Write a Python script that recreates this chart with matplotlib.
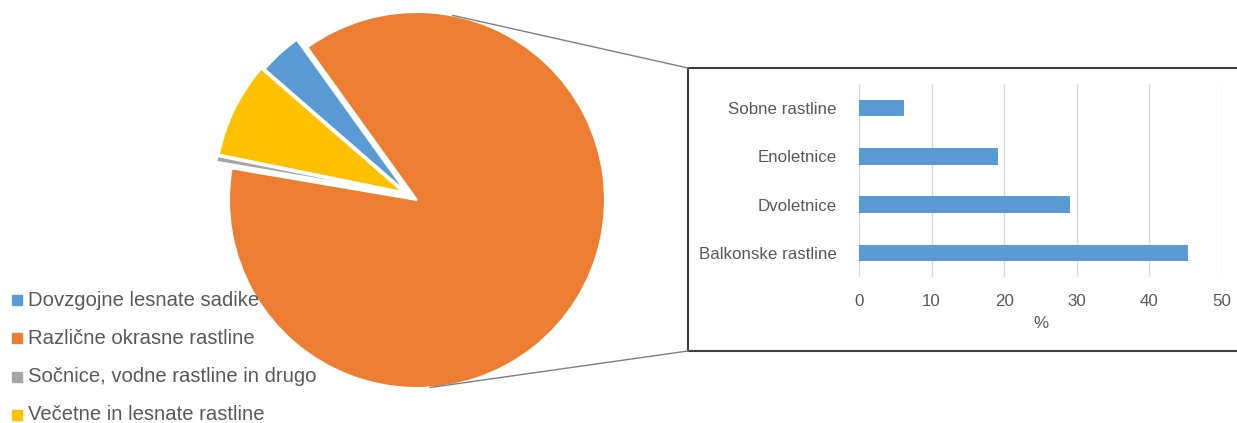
import numpy as np
import matplotlib.pyplot as plt
from matplotlib.patches import Rectangle

plt.rcParams["font.family"] = ["Liberation Sans", "DejaVu Sans"]

# pie data (share, %)
pie_labels = ["Dovzgojne lesnate sadike", "Različne okrasne rastline",
              "Sočnice, vodne rastline in drugo", "Večetne in lesnate rastline"]
pie_values = [3.7, 87.6, 0.5, 8.2]
pie_colors = ["#5B9BD5", "#ED7D31", "#A5A5A5", "#FFC000"]

# breakdown of "Različne okrasne rastline" (%)
bar_labels = ["Balkonske rastline", "Dvoletnice", "Enoletnice", "Sobne rastline"]
bar_values = [45.3, 29.1, 19.2, 6.2]
bar_ticks = [0, 10, 20, 30, 40, 50]

text_col = "#595959"
W, H = 1237, 423

fig = plt.figure(figsize=(W / 100, H / 100), dpi=100)
ax = fig.add_axes([0, 0, 1, 1])

cx, cy, r = 408.5, H - 194.7, 188
# explode is in data units (pixels here)
explode = [3, 10, 7, 6]
wedges, _ = ax.pie(pie_values, colors=pie_colors, startangle=139, counterclock=False,
                   center=(cx, cy), radius=r, explode=explode,
                   wedgeprops=dict(edgecolor="white", linewidth=1.5), frame=True)
ax.set_xlim(0, W)
ax.set_ylim(0, H)
ax.set_aspect("equal")
ax.axis("off")

# box around the bar chart and connector lines
box_left, box_top, box_bottom = 688, H - 68, H - 351
ax.add_patch(Rectangle((box_left, box_bottom), W - box_left + 10, box_top - box_bottom,
                       facecolor="white", edgecolor="#404040", linewidth=1.5, zorder=1))
ocx, ocy = cx + 10 * 0.85, cy - 10 * 0.525
for ang, yb in [(79, box_top), (-86, box_bottom)]:
    px = ocx + r * np.cos(np.radians(ang))
    py = ocy + r * np.sin(np.radians(ang))
    ax.plot([px, box_left], [py, yb], color="#7F7F7F", lw=1, zorder=2)

# legend
for i, (lab, col) in enumerate(zip(pie_labels, pie_colors)):
    y = H - (300 + i * 38.3)
    ax.plot(17, y, marker="s", ms=6.5, color=col, zorder=5)
    ax.text(28, y, lab, fontsize=14.6, color=text_col, va="center", ha="left", zorder=5)

# bar chart
bx = fig.add_axes([859 / W, (H - 277) / H, 363 / W, 193 / H])
ypos = np.arange(len(bar_labels))
bx.barh(ypos, bar_values, height=0.34, color="#5B9BD5", zorder=3)
bx.set_xlim(0, 50)
bx.set_ylim(-0.5, 3.5)
bx.set_xticks(bar_ticks)
bx.set_yticks(ypos)
bx.set_yticklabels(bar_labels)
bx.tick_params(axis="both", length=0, labelsize=12.2, colors=text_col)
bx.tick_params(axis="y", pad=16)
bx.tick_params(axis="x", pad=12)
bx.grid(axis="x", color="#D9D9D9", lw=1, zorder=0)
for s in bx.spines.values():
    s.set_visible(False)
bx.set_facecolor("none")
bx.set_xlabel("%", fontsize=12.2, color=text_col, labelpad=5)

fig.savefig("out.png", dpi=100)
